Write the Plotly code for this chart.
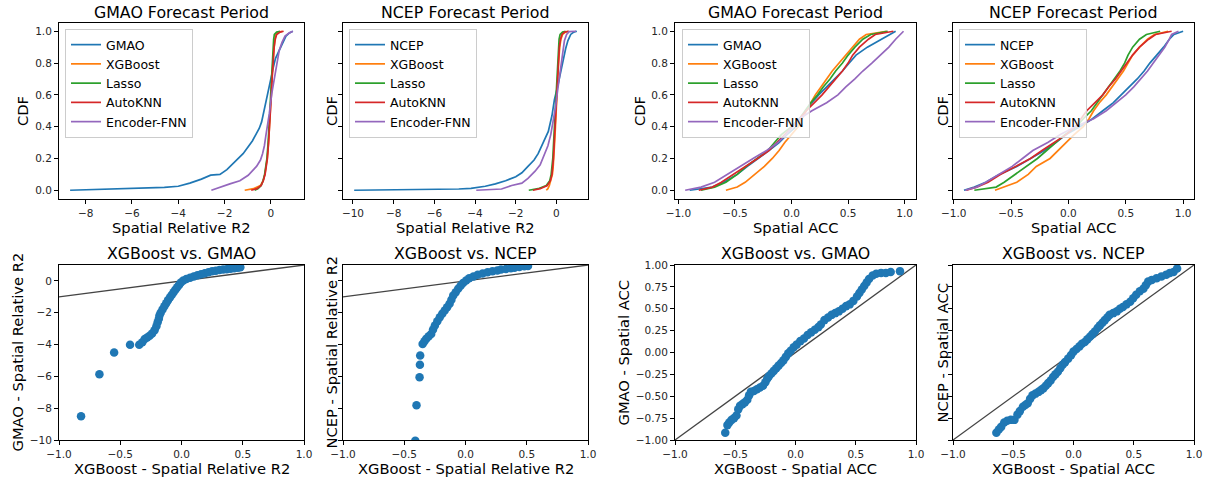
import plotly.graph_objects as go

# ---------------- DATA ----------------
# Top-left: GMAO forecast period, Spatial Relative R2 (CDF)
r2_levels = [0, 0.01, 0.03, 0.06, 0.1, 0.15, 0.2, 0.3, 0.4, 0.5, 0.6, 0.7, 0.8, 0.9, 0.95, 0.98, 0.995, 1.0]

gmao_r2_x = [-8.67, -7.0, -5.7, -4.6, -4.0, -3.5, -3.0, -2.6, -2.2, -1.9, -1.55, -1.2, -0.8, -0.5, -0.4,
             -0.3, -0.2, -0.1, 0.0, 0.1, 0.2, 0.35, 0.5, 0.65, 0.8, 0.95]
gmao_r2_cdf = [0.0, 0.008, 0.012, 0.018, 0.025, 0.045, 0.07, 0.095, 0.10, 0.13, 0.18, 0.23, 0.31, 0.39, 0.43,
               0.50, 0.58, 0.64, 0.70, 0.77, 0.83, 0.88, 0.93, 0.97, 0.99, 1.0]
gmao_xgb_r2 = [-1.13, -0.75, -0.45, -0.33, -0.26, -0.2, -0.16, -0.1, -0.055, -0.02, 0.015, 0.05, 0.085, 0.13, 0.17, 0.22, 0.35, 0.5]
gmao_lasso_r2 = [-0.7, -0.55, -0.42, -0.34, -0.27, -0.21, -0.17, -0.12, -0.07, -0.04, -0.01, 0.02, 0.05, 0.09, 0.12, 0.15, 0.25, 0.4]
gmao_knn_r2 = [-0.85, -0.6, -0.42, -0.33, -0.25, -0.19, -0.15, -0.1, -0.05, -0.02, 0.02, 0.05, 0.09, 0.14, 0.19, 0.25, 0.4, 0.55]
gmao_fnn_r2_x = [-2.57, -2.2, -1.77, -1.34, -0.98, -0.62, -0.45, -0.36, -0.28, -0.22, -0.14, -0.07, 0.04, 0.12,
                 0.19, 0.28, 0.36, 0.48, 0.61, 0.8, 0.95]
gmao_fnn_r2_cdf = [0.0, 0.02, 0.04, 0.06, 0.094, 0.15, 0.19, 0.23, 0.28, 0.34, 0.41, 0.48, 0.61, 0.68,
                   0.75, 0.82, 0.88, 0.93, 0.97, 0.99, 1.0]

# Top, second: NCEP forecast period, Spatial Relative R2 (CDF)
ncep_r2_x = [-9.94, -8.0, -6.0, -4.8, -4.2, -3.5, -3.0, -2.5, -2.0, -1.7, -1.4, -1.1, -0.9, -0.6, -0.4,
             -0.22, -0.1, 0.07, 0.2, 0.31, 0.45, 0.56, 0.7, 0.85, 1.0]
ncep_r2_cdf = [0.0, 0.002, 0.004, 0.008, 0.012, 0.025, 0.04, 0.06, 0.085, 0.11, 0.15, 0.19, 0.23, 0.31, 0.37,
               0.47, 0.57, 0.66, 0.74, 0.82, 0.89, 0.94, 0.98, 0.995, 1.0]
ncep_xgb_r2 = [-0.5, -0.42, -0.35, -0.27, -0.2, -0.16, -0.13, -0.09, -0.05, -0.02, 0.02, 0.05, 0.1, 0.16, 0.22, 0.3, 0.45, 0.6]
ncep_lasso_r2 = [-1.36, -0.9, -0.5, -0.33, -0.26, -0.21, -0.18, -0.14, -0.1, -0.07, -0.04, 0.0, 0.04, 0.09, 0.13, 0.18, 0.3, 0.45]
ncep_knn_r2 = [-1.16, -0.8, -0.45, -0.3, -0.22, -0.18, -0.15, -0.11, -0.07, -0.04, 0.0, 0.04, 0.08, 0.14, 0.2, 0.27, 0.4, 0.6]
ncep_fnn_r2_x = [-3.94, -3.3, -2.7, -2.2, -1.7, -1.4, -1.05, -0.8, -0.59, -0.42, -0.28, -0.15, -0.05, 0.07,
                 0.15, 0.23, 0.31, 0.39, 0.5, 0.62, 0.96]
ncep_fnn_r2_cdf = [0.0, 0.003, 0.008, 0.03, 0.045, 0.075, 0.12, 0.16, 0.22, 0.28, 0.35, 0.44, 0.52, 0.64,
                   0.72, 0.8, 0.87, 0.94, 0.98, 0.998, 1.0]

# Top, third/fourth: Spatial ACC (CDF)
acc_levels = [0, 0.02, 0.05, 0.1, 0.15, 0.2, 0.25, 0.3, 0.35, 0.4, 0.45, 0.5, 0.55, 0.6, 0.65, 0.7, 0.75,
              0.8, 0.85, 0.9, 0.95, 0.98, 1.0]
gmao_acc = [-0.9, -0.70, -0.6, -0.48, -0.39, -0.29, -0.2, -0.11, -0.04, 0.04, 0.09, 0.13, 0.18, 0.24, 0.31,
            0.38, 0.45, 0.51, 0.57, 0.67, 0.79, 0.86, 0.92]
gmao_xgb_acc = [-0.58, -0.48, -0.41, -0.32, -0.24, -0.17, -0.11, -0.06, 0.0, 0.06, 0.09, 0.13, 0.17, 0.21,
                0.26, 0.31, 0.36, 0.42, 0.48, 0.54, 0.6, 0.66, 0.84]
gmao_lasso_acc = [-0.8, -0.68, -0.58, -0.48, -0.4, -0.3, -0.21, -0.15, -0.09, 0.0, 0.07, 0.12, 0.17, 0.23,
                  0.28, 0.34, 0.39, 0.45, 0.5, 0.56, 0.63, 0.7, 0.85]
gmao_knn_acc = [-0.82, -0.7, -0.62, -0.51, -0.4, -0.3, -0.2, -0.13, -0.06, 0.01, 0.07, 0.13, 0.2, 0.27,
                0.33, 0.39, 0.45, 0.5, 0.54, 0.6, 0.68, 0.74, 0.9]
gmao_fnn_acc = [-0.94, -0.8, -0.68, -0.57, -0.45, -0.34, -0.22, -0.12, -0.05, 0.01, 0.07, 0.18, 0.31, 0.41,
                0.48, 0.56, 0.63, 0.71, 0.79, 0.86, 0.92, 0.96, 0.99]

ncep_acc = [-0.91, -0.82, -0.72, -0.6, -0.45, -0.33, -0.21, -0.11, -0.02, 0.1, 0.21, 0.3, 0.39, 0.46, 0.53,
            0.6, 0.66, 0.71, 0.77, 0.83, 0.88, 0.92, 1.0]
ncep_xgb_acc = [-0.64, -0.56, -0.45, -0.35, -0.28, -0.16, -0.09, -0.02, 0.05, 0.13, 0.18, 0.22, 0.27, 0.33,
                0.38, 0.43, 0.48, 0.52, 0.56, 0.62, 0.69, 0.75, 0.87]
ncep_lasso_acc = [-0.82, -0.63, -0.56, -0.46, -0.37, -0.27, -0.19, -0.11, -0.03, 0.07, 0.13, 0.2, 0.25, 0.3,
                  0.35, 0.4, 0.45, 0.49, 0.52, 0.56, 0.62, 0.68, 0.8]
ncep_knn_acc = [-0.89, -0.8, -0.7, -0.59, -0.46, -0.33, -0.23, -0.13, -0.02, 0.06, 0.11, 0.16, 0.23, 0.3,
                0.35, 0.41, 0.46, 0.51, 0.56, 0.62, 0.7, 0.76, 0.9]
ncep_fnn_acc = [-0.9, -0.8, -0.72, -0.6, -0.49, -0.4, -0.31, -0.18, -0.07, 0.06, 0.22, 0.33, 0.41, 0.5,
                0.57, 0.63, 0.69, 0.74, 0.79, 0.84, 0.88, 0.9, 0.96]

# Bottom row: quantile scatter plots
qq_gmao_r2_xgb = [-0.82, -0.67, -0.55, -0.42, -0.345, -0.32, -0.30, -0.28, -0.26, -0.24, -0.22, -0.205, -0.195,
                  -0.185, -0.18, -0.17, -0.155, -0.14, -0.125, -0.11, -0.095, -0.08, -0.065, -0.05, -0.035,
                  -0.02, -0.005, 0.015, 0.04, 0.07, 0.10, 0.13, 0.16, 0.19, 0.22, 0.25, 0.28, 0.31, 0.34,
                  0.37, 0.40, 0.43, 0.46, 0.48]
qq_gmao_r2_dyn = [-8.5, -5.86, -4.5, -4.02, -4.02, -3.85, -3.65, -3.55, -3.45, -3.3, -3.1, -2.85, -2.6,
                  -2.38, -2.18, -2.0, -1.8, -1.6, -1.4, -1.22, -1.05, -0.88, -0.72, -0.56, -0.4,
                  -0.25, -0.1, 0.02, 0.12, 0.2, 0.28, 0.35, 0.42, 0.48, 0.54, 0.6, 0.64, 0.68, 0.71,
                  0.74, 0.77, 0.8, 0.83, 0.86]

qq_ncep_r2_xgb = [-0.41, -0.40, -0.375, -0.372, -0.37, -0.35, -0.335, -0.32, -0.30, -0.28, -0.265, -0.25,
                  -0.23, -0.21, -0.19, -0.17, -0.15, -0.13, -0.115, -0.10, -0.08, -0.06, -0.04, -0.02,
                  0.005, 0.03, 0.065, 0.10, 0.14, 0.18, 0.22, 0.26, 0.29, 0.33, 0.37, 0.40, 0.44, 0.48, 0.51]
qq_ncep_r2_dyn = [-10.05, -7.82, -6.05, -5.27, -4.69, -3.96, -3.8, -3.64, -3.48, -3.33, -3.05, -2.8,
                  -2.54, -2.28, -2.07, -1.86, -1.65, -1.44, -1.18, -0.92, -0.71, -0.5, -0.31, -0.13,
                  0.02, 0.17, 0.28, 0.38, 0.46, 0.54, 0.6, 0.66, 0.71, 0.75, 0.79, 0.82, 0.87, 0.92, 0.93]

qq_gmao_acc_xgb = [-0.583, -0.565, -0.55, -0.53, -0.51, -0.49, -0.475, -0.46, -0.44, -0.42, -0.40, -0.385,
                   -0.37, -0.345, -0.32, -0.295, -0.27, -0.25, -0.235, -0.22, -0.20, -0.18, -0.16, -0.14,
                   -0.12, -0.10, -0.08, -0.06, -0.04, -0.015, 0.01, 0.04, 0.07, 0.10, 0.13, 0.16, 0.19,
                   0.21, 0.24, 0.27, 0.30, 0.33, 0.36, 0.39, 0.42, 0.45, 0.48, 0.51, 0.53, 0.55, 0.57,
                   0.59, 0.61, 0.64, 0.67, 0.71, 0.75, 0.79, 0.867]
qq_gmao_acc_dyn = [-0.916, -0.83, -0.80, -0.77, -0.75, -0.72, -0.65, -0.61, -0.59, -0.57, -0.54, -0.49,
                   -0.45, -0.44, -0.42, -0.40, -0.38, -0.34, -0.30, -0.27, -0.24, -0.21, -0.18, -0.15,
                   -0.12, -0.09, -0.05, -0.01, 0.02, 0.06, 0.09, 0.13, 0.16, 0.20, 0.23, 0.26, 0.29,
                   0.32, 0.37, 0.40, 0.43, 0.45, 0.47, 0.50, 0.53, 0.55, 0.59, 0.64, 0.68, 0.72, 0.76,
                   0.80, 0.84, 0.88, 0.90, 0.91, 0.91, 0.92, 0.93]

qq_ncep_acc_xgb = [-0.64, -0.62, -0.60, -0.575, -0.55, -0.52, -0.49, -0.465, -0.445, -0.42, -0.40, -0.38,
                   -0.36, -0.34, -0.315, -0.29, -0.27, -0.25, -0.23, -0.21, -0.19, -0.17, -0.15, -0.13,
                   -0.11, -0.09, -0.07, -0.044, -0.02, 0.0, 0.025, 0.05, 0.07, 0.094, 0.115, 0.136, 0.157,
                   0.177, 0.20, 0.22, 0.24, 0.26, 0.28, 0.30, 0.33, 0.36, 0.385, 0.41, 0.44, 0.47, 0.495,
                   0.52, 0.55, 0.58, 0.60, 0.62, 0.65, 0.69, 0.73, 0.77, 0.80, 0.83, 0.86]
qq_ncep_acc_dyn = [-0.916, -0.88, -0.85, -0.80, -0.78, -0.77, -0.77, -0.71, -0.67, -0.62, -0.60, -0.58,
                   -0.53, -0.49, -0.47, -0.45, -0.43, -0.41, -0.38, -0.35, -0.32, -0.28, -0.25, -0.22,
                   -0.18, -0.14, -0.11, -0.07, -0.03, 0.01, 0.04, 0.07, 0.10, 0.12, 0.15, 0.18, 0.21,
                   0.24, 0.28, 0.31, 0.34, 0.37, 0.40, 0.43, 0.45, 0.47, 0.50, 0.52, 0.55, 0.58, 0.62,
                   0.66, 0.70, 0.73, 0.77, 0.81, 0.83, 0.85, 0.87, 0.89, 0.91, 0.92, 0.96]

diag = [-1, 1]

model_names = ["XGBoost", "Lasso", "AutoKNN", "Encoder-FNN"]
titles_top = ["GMAO Forecast Period", "NCEP Forecast Period", "GMAO Forecast Period", "NCEP Forecast Period"]
titles_bot = ["XGBoost vs. GMAO", "XGBoost vs. NCEP", "XGBoost vs. GMAO", "XGBoost vs. NCEP"]

# ---------------- STYLE / LAYOUT ----------------
W, H = 1208, 480
FONT = "DejaVu Sans"
C_BLUE, C_ORANGE, C_GREEN, C_RED, C_PURPLE = "#1f77b4", "#ff7f0e", "#2ca02c", "#d62728", "#9467bd"
cols_px = [(59, 304), (343, 588), (675, 916), (953, 1194)]
top_px = (23, 199)
bot_px = (265, 440)


def xdom(c):
    return [c[0] / W, c[1] / W]


def ydom(r):
    return [1 - r[1] / H, 1 - r[0] / H]


fig = go.Figure()


def line(xs, ys, name, color, ax, legend):
    fig.add_trace(go.Scatter(x=xs, y=ys, mode="lines", name=name,
                             line=dict(color=color, width=1.7),
                             xaxis="x" + ax, yaxis="y" + ax, legend=legend))


# Panel 1
line(gmao_r2_x, gmao_r2_cdf, "GMAO", C_BLUE, "", "legend")
line(gmao_xgb_r2, r2_levels, model_names[0], C_ORANGE, "", "legend")
line(gmao_lasso_r2, r2_levels, model_names[1], C_GREEN, "", "legend")
line(gmao_knn_r2, r2_levels, model_names[2], C_RED, "", "legend")
line(gmao_fnn_r2_x, gmao_fnn_r2_cdf, model_names[3], C_PURPLE, "", "legend")
# Panel 2
line(ncep_r2_x, ncep_r2_cdf, "NCEP", C_BLUE, "2", "legend2")
line(ncep_xgb_r2, r2_levels, model_names[0], C_ORANGE, "2", "legend2")
line(ncep_lasso_r2, r2_levels, model_names[1], C_GREEN, "2", "legend2")
line(ncep_knn_r2, r2_levels, model_names[2], C_RED, "2", "legend2")
line(ncep_fnn_r2_x, ncep_fnn_r2_cdf, model_names[3], C_PURPLE, "2", "legend2")
# Panel 3
line(gmao_acc, acc_levels, "GMAO", C_BLUE, "3", "legend3")
line(gmao_xgb_acc, acc_levels, model_names[0], C_ORANGE, "3", "legend3")
line(gmao_lasso_acc, acc_levels, model_names[1], C_GREEN, "3", "legend3")
line(gmao_knn_acc, acc_levels, model_names[2], C_RED, "3", "legend3")
line(gmao_fnn_acc, acc_levels, model_names[3], C_PURPLE, "3", "legend3")
# Panel 4
line(ncep_acc, acc_levels, "NCEP", C_BLUE, "4", "legend4")
line(ncep_xgb_acc, acc_levels, model_names[0], C_ORANGE, "4", "legend4")
line(ncep_lasso_acc, acc_levels, model_names[1], C_GREEN, "4", "legend4")
line(ncep_knn_acc, acc_levels, model_names[2], C_RED, "4", "legend4")
line(ncep_fnn_acc, acc_levels, model_names[3], C_PURPLE, "4", "legend4")

# Bottom scatter panels
for ax, xs, ys in [("5", qq_gmao_r2_xgb, qq_gmao_r2_dyn), ("6", qq_ncep_r2_xgb, qq_ncep_r2_dyn),
                   ("7", qq_gmao_acc_xgb, qq_gmao_acc_dyn), ("8", qq_ncep_acc_xgb, qq_ncep_acc_dyn)]:
    fig.add_trace(go.Scatter(x=diag, y=diag, mode="lines", showlegend=False,
                             line=dict(color="#444444", width=1.3), xaxis="x" + ax, yaxis="y" + ax))
    fig.add_trace(go.Scatter(x=xs, y=ys, mode="markers", showlegend=False,
                             marker=dict(color=C_BLUE, size=8.5, line=dict(width=0)),
                             xaxis="x" + ax, yaxis="y" + ax))

base_axis = dict(showline=True, mirror=True, linecolor="#000000", linewidth=1, ticks="outside",
                 ticklen=4, tickwidth=1, tickcolor="#000000", showgrid=False, zeroline=False,
                 tickfont=dict(family=FONT, size=10.5, color="#262626"))

cdf_ticks = [0, 0.2, 0.4, 0.6, 0.8, 1.0]
acc_ticks = [-1.0, -0.5, 0.0, 0.5, 1.0]
r2q_ticks = [-10, -8, -6, -4, -2, 0]
accq_ticks = [-1.0, -0.75, -0.5, -0.25, 0.0, 0.25, 0.5, 0.75, 1.0]

axes_cfg = {
    "": dict(x=dict(range=[-9.15, 1.43], tickvals=[-8, -6, -4, -2, 0]),
             y=dict(range=[-0.055, 1.052], tickvals=cdf_ticks, tickformat=".1f"), col=0, row=top_px),
    "2": dict(x=dict(range=[-10.49, 1.55], tickvals=[-10, -8, -6, -4, -2, 0]),
              y=dict(range=[-0.055, 1.052], tickvals=cdf_ticks, showticklabels=False), col=1, row=top_px),
    "3": dict(x=dict(range=[-1.03, 1.1], tickvals=acc_ticks, tickformat=".1f"),
              y=dict(range=[-0.055, 1.052], tickvals=cdf_ticks, tickformat=".1f"), col=2, row=top_px),
    "4": dict(x=dict(range=[-1.006, 1.095], tickvals=acc_ticks, tickformat=".1f"),
              y=dict(range=[-0.055, 1.052], tickvals=cdf_ticks, showticklabels=False), col=3, row=top_px),
    "5": dict(x=dict(range=[-1, 1], tickvals=acc_ticks, tickformat=".1f"),
              y=dict(range=[-10, 1], tickvals=r2q_ticks), col=0, row=bot_px),
    "6": dict(x=dict(range=[-1, 1], tickvals=acc_ticks, tickformat=".1f"),
              y=dict(range=[-10, 1], tickvals=r2q_ticks, showticklabels=False), col=1, row=bot_px),
    "7": dict(x=dict(range=[-1, 1], tickvals=acc_ticks, tickformat=".1f"),
              y=dict(range=[-1, 1], tickvals=accq_ticks, tickformat=".2f"), col=2, row=bot_px),
    "8": dict(x=dict(range=[-1, 1], tickvals=acc_ticks, tickformat=".1f"),
              y=dict(range=[-1, 1], tickvals=accq_ticks, showticklabels=False), col=3, row=bot_px),
}

layout_axes = {}
for ax, cfg in axes_cfg.items():
    xa = dict(base_axis, domain=xdom(cols_px[cfg["col"]]), anchor="y" + ax, **cfg["x"])
    ya = dict(base_axis, domain=ydom(cfg["row"]), anchor="x" + ax, **cfg["y"])
    layout_axes["xaxis" + ax] = xa
    layout_axes["yaxis" + ax] = ya

legend_base = dict(font=dict(family=FONT, size=12.5, color="#000000"), bgcolor="rgba(255,255,255,0.8)",
                   bordercolor="#cccccc", borderwidth=1, xanchor="left", yanchor="top",
                   tracegroupgap=0, itemclick=False, itemdoubleclick=False)
legend_left_px = [65, 349, 682, 959]
legend_top_px = 29
legends = {}
for i, lx in enumerate(legend_left_px):
    key = "legend" if i == 0 else "legend%d" % (i + 1)
    legends[key] = dict(legend_base, x=lx / W, y=1 - legend_top_px / H)

annotations = []


def ann(text, xpx, ypx, size, angle=0):
    annotations.append(dict(text=text, x=xpx / W, y=1 - ypx / H, xref="paper", yref="paper",
                            xanchor="center", yanchor="middle", showarrow=False, textangle=angle,
                            font=dict(family=FONT, size=size, color="#000000")))


for i, c in enumerate(cols_px):
    cx = (c[0] + c[1]) / 2
    ann(titles_top[i], cx, 12, 15.8)
    ann(titles_bot[i], cx, 253, 15.8)
    ann("Spatial Relative R2" if i < 2 else "Spatial ACC", cx, 227, 14.7)
    ann("XGBoost - Spatial Relative R2" if i < 2 else "XGBoost - Spatial ACC", cx, 468, 14.7)

cdf_x = [23, 332, 640, 943]
for xp in cdf_x:
    ann("CDF", xp, (top_px[0] + top_px[1]) / 2, 14.7, -90)
bot_ytitles = ["GMAO - Spatial Relative R2", "NCEP - Spatial Relative R2", "GMAO - Spatial ACC", "NCEP - Spatial ACC"]
bot_yx = [17, 331, 623, 942]
for t, xp in zip(bot_ytitles, bot_yx):
    ann(t, xp, (bot_px[0] + bot_px[1]) / 2, 14.7, -90)

fig.update_layout(width=W, height=H, margin=dict(l=0, r=0, t=0, b=0), template="none",
                  paper_bgcolor="white", plot_bgcolor="white", font=dict(family=FONT),
                  hovermode=False, annotations=annotations, **layout_axes, **legends)

fig.write_html("out.html", config={"displayModeBar": False, "staticPlot": True},
               post_script="document.body.style.margin='0';document.body.style.padding='0';")
